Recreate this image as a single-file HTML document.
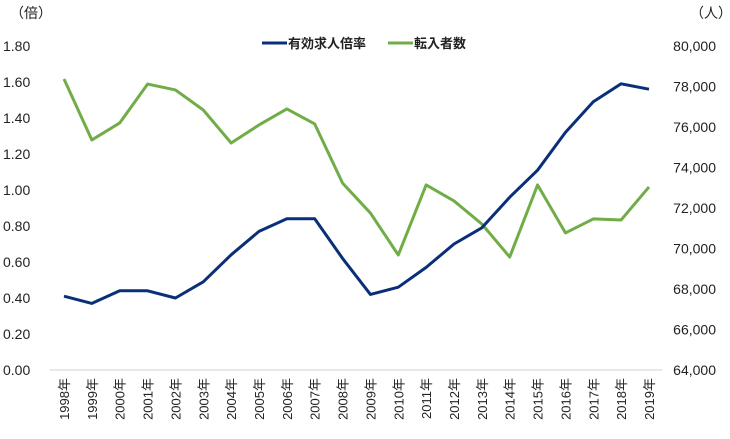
<!DOCTYPE html>
<html><head><meta charset="utf-8"><style>
body{margin:0;background:#fff;}
svg text{font-family:"Liberation Sans","Noto Sans CJK JP",sans-serif;fill:#222;}
</style></head><body>
<svg id="chart" width="730" height="434" xmlns="http://www.w3.org/2000/svg">
<text x="10" y="18" font-size="14">（倍）</text>
<text x="690" y="18" font-size="14">（人）</text>
<g>
<line x1="262" y1="43" x2="287" y2="43" stroke="#0a2f7a" stroke-width="3"/>
<text x="288" y="48" font-size="13" font-weight="bold">有効求人倍率</text>
<line x1="388" y1="43" x2="413" y2="43" stroke="#70ad47" stroke-width="3"/>
<text x="414" y="48" font-size="13" font-weight="bold">転入者数</text>
</g>
<line x1="50" y1="370" x2="662" y2="370" stroke="#d0d0d0" stroke-width="1"/>
<g id="ticks"></g>
<g id="series"></g>
</svg>
<script>
const years=["1998","1999","2000","2001","2002","2003","2004","2005","2006","2007","2008","2009","2010","2011","2012","2013","2014","2015","2016","2017","2018","2019"];
const jobsRatio=[0.41,0.37,0.44,0.44,0.40,0.49,0.64,0.77,0.84,0.84,0.62,0.42,0.46,0.57,0.70,0.79,0.96,1.11,1.32,1.49,1.59,1.56];
const inflow=[78370,75360,76200,78120,77830,76840,75210,76100,76890,76150,73230,71750,69680,73140,72350,71210,69580,73140,70770,71460,71410,73040];
const leftTicks=[0,0.2,0.4,0.6,0.8,1.0,1.2,1.4,1.6,1.8];
const rightTicks=[64000,66000,68000,70000,72000,74000,76000,78000,80000];
const NS="http://www.w3.org/2000/svg";
const x=i=>64+i*(585/21);
const yL=v=>370-v*180;
const yR=v=>370-(v-64000)*0.02025;
const tg=document.getElementById('ticks'),sg=document.getElementById('series');
function txt(g,x0,y0,s,anchor,rot,fs){const t=document.createElementNS(NS,'text');t.setAttribute('x',x0);t.setAttribute('y',y0);t.setAttribute('font-size',fs||'13');t.setAttribute('text-anchor',anchor);if(rot)t.setAttribute('transform',rot);t.textContent=s;g.appendChild(t);return t;}
leftTicks.forEach(v=>{const t=txt(tg,3,yL(v)+5,v.toFixed(2),'start',null,'14');

});
rightTicks.forEach(v=>{const t=txt(tg,716,yR(v)+5,v.toLocaleString('en-US'),'end',null,'14');

});
years.forEach((yr,i)=>{const xx=x(i)+5,yy=378;const t=txt(tg,xx,yy,yr+'年','end','rotate(-90 '+xx+' '+yy+')');

});
function line(vals,fy,color,name){const p=document.createElementNS(NS,'polyline');p.setAttribute('points',vals.map((v,i)=>x(i)+','+fy(v)).join(' '));p.setAttribute('fill','none');p.setAttribute('stroke',color);p.setAttribute('stroke-width','3');p.setAttribute('stroke-linejoin','round');


sg.appendChild(p);}
line(inflow,yR,'#70ad47','inflow-line');
line(jobsRatio,yL,'#0a2f7a','jobs-ratio-line');
</script>
</body></html>
